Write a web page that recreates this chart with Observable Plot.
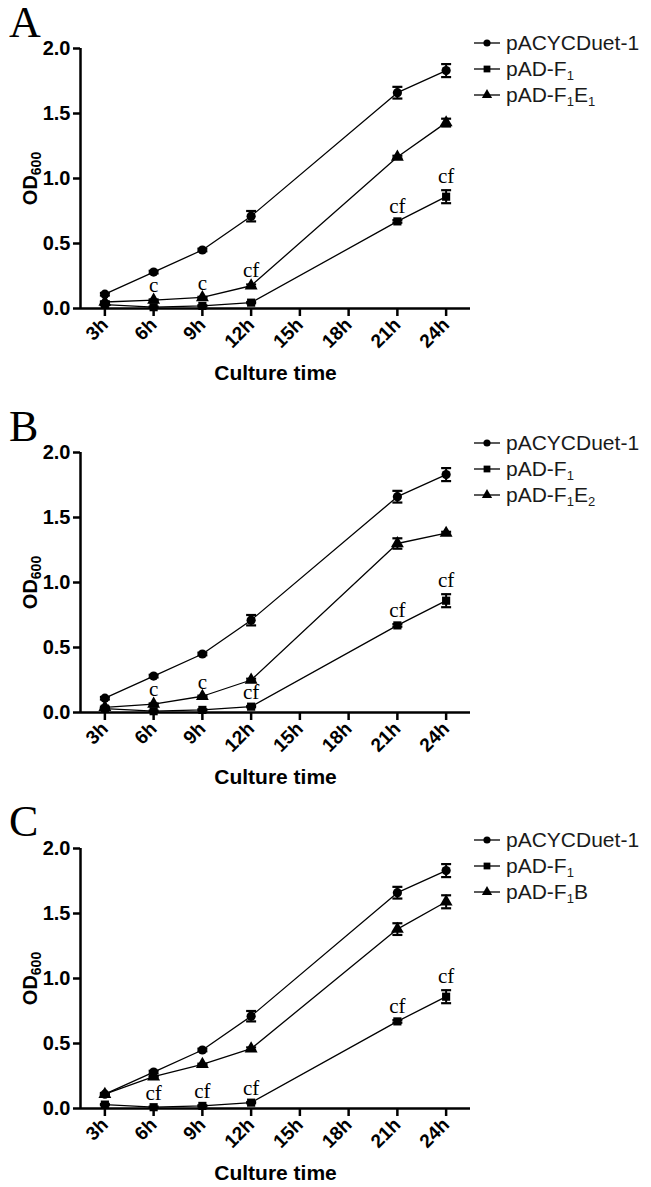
<!DOCTYPE html>
<html><head><meta charset="utf-8">
<script src="https://cdn.jsdelivr.net/npm/d3@7"></script>
<script src="https://cdn.jsdelivr.net/npm/@observablehq/plot@0.6"></script>
<style>
body{margin:0;background:#fff;width:651px;height:1187px;overflow:hidden;font-family:"Liberation Sans",Arial,sans-serif;}
.panel{position:relative;width:651px;}
.panel svg.plot{display:block;}
.letter{position:absolute;left:9px;font-family:"Liberation Serif","Times New Roman",serif;font-size:44px;line-height:1;color:#000;}
.legend{position:absolute;left:474px;}
.row{display:flex;align-items:center;height:26px;font-size:21px;color:#1a1a1a;white-space:nowrap;}
.row svg{margin-right:6px;}
sub{font-size:0.62em;vertical-align:-0.28em;line-height:0}
</style></head><body><div id="chart"></div><script>
// ---- data ----
const times = [3, 6, 9, 12, 21, 24];
const xTicks = [3, 6, 9, 12, 15, 18, 21, 24];
const xTickLabels = ["3h", "6h", "9h", "12h", "15h", "18h", "21h", "24h"];
const yTicks = [0, 0.5, 1.0, 1.5, 2.0];
const xDomain = [1.5, 25.5];
const yDomain = [0, 2];

const pACYCDuet = [0.11, 0.28, 0.45, 0.71, 1.66, 1.83];
const pACYCDuetErr = [0.01, 0.01, 0.01, 0.04, 0.045, 0.05];
const pADF1 = [0.03, 0.01, 0.02, 0.045, 0.67, 0.86];
const pADF1Err = [0.005, 0.005, 0.005, 0.005, 0.01, 0.05];
const pADF1E1 = [0.05, 0.065, 0.085, 0.175, 1.165, 1.43];
const pADF1E1Err = [0.005, 0.005, 0.005, 0.01, 0.01, 0.03];
const pADF1E2 = [0.04, 0.065, 0.125, 0.25, 1.30, 1.38];
const pADF1E2Err = [0.005, 0.005, 0.005, 0.01, 0.04, 0.01];
const pADF1B = [0.11, 0.245, 0.34, 0.46, 1.38, 1.59];
const pADF1BErr = [0.005, 0.005, 0.005, 0.01, 0.045, 0.05];

const panelLetters = ["A", "B", "C"];
const legendControl = "pACYCDuet-1";
const legendF1 = "pAD-F<sub>1</sub>";
const legendThird = ["pAD-F<sub>1</sub>E<sub>1</sub>", "pAD-F<sub>1</sub>E<sub>2</sub>", "pAD-F<sub>1</sub>B"];

const annotTimes = [[6, 9, 12, 21, 24], [6, 9, 12, 21, 24], [6, 9, 12, 21, 24]];
const annotSeries = [["third", "third", "third", "F1", "F1"], ["third", "third", "F1", "F1", "F1"], ["F1", "F1", "F1", "F1", "F1"]];
const annotLabels = [["c", "c", "cf", "cf", "cf"], ["c", "c", "cf", "cf", "cf"], ["cf", "cf", "cf", "cf", "cf"]];

// ---- layout ----
const layout = [
  {height: 396, marginTop: 48, marginBottom: 88, letterTop: 1, legendTop: 30},
  {height: 396, marginTop: 56, marginBottom: 80, letterTop: 9, legendTop: 34},
  {height: 395, marginTop: 56, marginBottom: 79, letterTop: 8, legendTop: 35}
];

const capSymbol = {draw(ctx, size) { const w = Math.sqrt(size / Math.PI); ctx.moveTo(-w, 0); ctx.lineTo(w, 0); }};

function rowsOf(values, errs) { return times.map((t, i) => ({time: t, v: values[i], e: errs[i]})); }

function seriesMarks(rows, symbol, r) {
  return [
    Plot.ruleX(rows, {x: "time", y1: d => d.v - d.e, y2: d => d.v + d.e, stroke: "#000", strokeWidth: 2}),
    Plot.dot(rows, {x: "time", y: d => d.v + d.e, symbol: capSymbol, r: 5, fill: "none", stroke: "#000", strokeWidth: 2.2}),
    Plot.dot(rows, {x: "time", y: d => d.v - d.e, symbol: capSymbol, r: 5, fill: "none", stroke: "#000", strokeWidth: 2.2}),
    Plot.line(rows, {x: "time", y: "v", stroke: "#000", strokeWidth: 1.3}),
    Plot.dot(rows, {x: "time", y: "v", symbol, r, fill: "#000", stroke: "none"})
  ];
}

function legendSym(symbol) {
  const s = d3.symbol(symbol === "circle" ? d3.symbolCircle : symbol === "square" ? d3.symbolSquare : d3.symbolTriangle, symbol === "circle" ? 40 : 46)();
  return `<svg width="26" height="26"><line x1="0" x2="26" y1="13" y2="13" stroke="#000" stroke-width="1.3"/><path transform="translate(13,13)" d="${s}" fill="#000"/></svg>`;
}

const thirdVals = [[pADF1E1, pADF1E1Err], [pADF1E2, pADF1E2Err], [pADF1B, pADF1BErr]];
const chart = document.getElementById("chart");

panelLetters.forEach((letter, p) => {
  const L = layout[p];
  const control = rowsOf(pACYCDuet, pACYCDuetErr);
  const f1 = rowsOf(pADF1, pADF1Err);
  const third = rowsOf(thirdVals[p][0], thirdVals[p][1]);
  const lookup = {F1: f1, third};
  const annots = annotTimes[p].map((t, i) => {
    const row = lookup[annotSeries[p][i]][times.indexOf(t)];
    return {time: t, v: row.v, e: row.e, label: annotLabels[p][i]};
  });

  const svg = Plot.plot({
    width: 651, height: L.height,
    marginLeft: 80, marginRight: 181, marginTop: L.marginTop, marginBottom: L.marginBottom,
    style: {fontFamily: "'Liberation Sans', Arial, sans-serif", color: "#000", background: "#fff"},
    x: {domain: xDomain},
    y: {domain: yDomain},
    marks: [
      Plot.axisY({ticks: yTicks, tickFormat: d3.format(".1f"), tickSize: 7, tickPadding: 3, strokeWidth: 2.5,
        fontSize: 20, fontWeight: "bold", label: "OD600", labelAnchor: "center", labelOffset: 58, labelArrow: "none"}),
      Plot.axisX({ticks: xTicks, tickFormat: d => xTickLabels[xTicks.indexOf(d)], tickSize: 8, tickPadding: 5, tickRotate: -45,
        strokeWidth: 2.5, fontSize: 19, fontWeight: "bold", label: "Culture time", labelAnchor: "center", labelOffset: 71, labelArrow: "none"}),
      Plot.ruleY([yDomain[0]], {stroke: "#000", strokeWidth: 2.5}),
      Plot.ruleX([xDomain[0]], {stroke: "#000", strokeWidth: 2.5}),
      ...seriesMarks(f1, "square", 4.6),
      ...seriesMarks(third, "triangle", 4.8),
      ...seriesMarks(control, "circle", 4.6),
      Plot.text(annots, {x: "time", y: d => d.v + d.e, text: "label", dy: -7, lineAnchor: "bottom",
        fontFamily: "'Liberation Serif', 'Times New Roman', serif", fontSize: 21, fill: "#000"})
    ]
  });
  svg.classList.add("plot");

  // subscript in y label
  const yl = svg.querySelector('[aria-label="y-axis label"] text');
  if (yl) {
    yl.textContent = "OD";
    const ts = document.createElementNS("http://www.w3.org/2000/svg", "tspan");
    ts.setAttribute("font-size", "14");
    ts.setAttribute("dy", "0.3em");
    ts.textContent = "600";
    yl.appendChild(ts);
  }
  const xl = svg.querySelector('[aria-label="x-axis label"] text');
  if (xl) xl.setAttribute("font-size", "21");

  const div = document.createElement("div");
  div.className = "panel";
  div.style.height = L.height + "px";
  div.appendChild(svg);
  const let_ = document.createElement("div");
  let_.className = "letter"; let_.style.top = L.letterTop + "px"; let_.textContent = letter;
  div.appendChild(let_);
  const leg = document.createElement("div");
  leg.className = "legend"; leg.style.top = L.legendTop + "px";
  leg.innerHTML = [[legendControl, "circle"], [legendF1, "square"], [legendThird[p], "triangle"]]
    .map(([name, sym]) => `<div class="row">${legendSym(sym)}<span>${name}</span></div>`).join("");
  div.appendChild(leg);
  chart.appendChild(div);
});
</script></body></html>
